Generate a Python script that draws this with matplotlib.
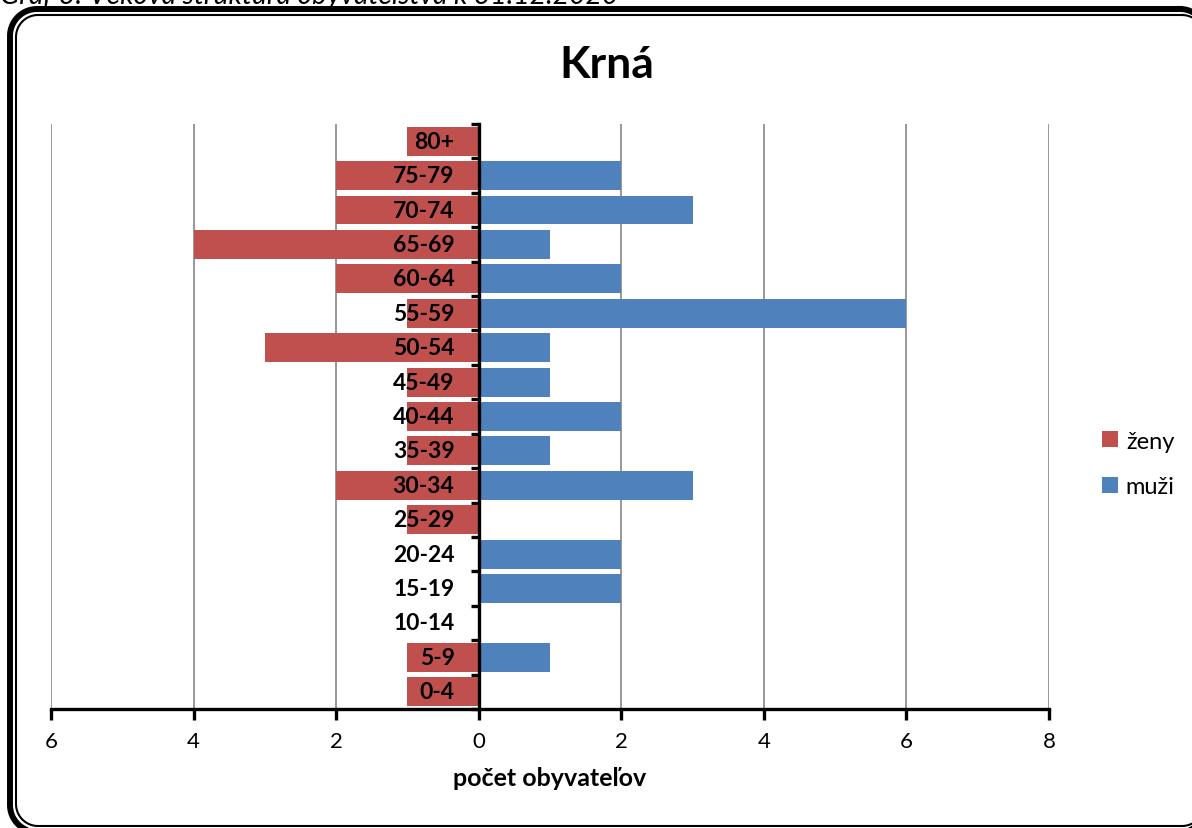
import matplotlib
matplotlib.use("Agg")
import numpy as np
import matplotlib.pyplot as plt
from matplotlib.patches import Patch
from matplotlib.ticker import FixedLocator, NullFormatter

plt.rcParams['font.family'] = ['Lato', 'DejaVu Sans']

categories = ["0-4", "5-9", "10-14", "15-19", "20-24", "25-29", "30-34", "35-39",
              "40-44", "45-49", "50-54", "55-59", "60-64", "65-69", "70-74", "75-79", "80+"]
zeny = [1, 1, 0, 0, 0, 1, 2, 1, 1, 1, 3, 1, 2, 4, 2, 2, 1]
muzi = [0, 1, 0, 2, 2, 0, 3, 1, 2, 1, 1, 6, 2, 1, 3, 2, 0]
x_ticks = [-6, -4, -2, 0, 2, 4, 6, 8]
x_tick_labels = ["6", "4", "2", "0", "2", "4", "6", "8"]

RED = "#C0504D"
BLUE = "#4F81BD"

W, H = 1192, 829
fig = plt.figure(figsize=(W / 100, H / 100), dpi=100)


def rounded_rect(left, top, right, bottom, r, n=24):
    xs, ys = [], []
    corners = [
        (right - r, top + r, -np.pi / 2, 0.0),
        (right - r, bottom - r, 0.0, np.pi / 2),
        (left + r, bottom - r, np.pi / 2, np.pi),
        (left + r, top + r, np.pi, 1.5 * np.pi),
    ]
    for cx, cy, a0, a1 in corners:
        t = np.linspace(a0, a1, n)
        xs.extend(cx + r * np.cos(t))
        ys.extend(cy + r * np.sin(t))
    xs.append(xs[0])
    ys.append(ys[0])
    return xs, ys


# full-figure overlay axes in pixel units (origin top-left) for the rounded double frame
fa = fig.add_axes([0, 0, 1, 1], zorder=-1)
fa.set_xlim(0, W)
fa.set_ylim(H, 0)
fa.axis('off')
ox, oy = rounded_rect(10, 10, 1207, 833, 27)
ix, iy = rounded_rect(16, 16, 1204, 827, 22)
fa.plot(ox, oy, color='black', linewidth=4.3, solid_joinstyle='round')
fa.plot(ix, iy, color='black', linewidth=1.5, solid_joinstyle='round')

ax = fig.add_axes([51 / W, 1 - 710 / H, (1049 - 51) / W, (710 - 125) / H])

y = list(range(len(categories)))
ax.barh(y, [-v for v in zeny], height=0.84, color=RED, edgecolor="none", zorder=2, label="ženy")
ax.barh(y, muzi, height=0.84, color=BLUE, edgecolor="none", zorder=2, label="muži")

ax.set_xlim(-6, 8)
ax.set_ylim(-0.5, len(categories) - 0.5)

ax.set_xticks(x_ticks)
ax.set_xticklabels(x_tick_labels)
ax.tick_params(axis='x', direction='out', length=8, width=2.4, pad=8, colors='black', labelsize=16)

ax.yaxis.set_major_locator(FixedLocator([i - 0.5 for i in range(len(categories) + 1)]))
ax.yaxis.set_major_formatter(NullFormatter())
ax.tick_params(axis='y', which='major', direction='out', length=6, width=2.4, color='black')

for yi, lab in zip(y, categories):
    ax.text(-0.34, yi, lab, ha='right', va='center', fontsize=16.5, fontweight='bold',
            color='black', zorder=6)

ax.spines['left'].set_position(('data', 0))
ax.spines['left'].set_linewidth(2.4)
ax.spines['bottom'].set_linewidth(2.4)
ax.spines['top'].set_visible(False)
ax.spines['right'].set_visible(False)

ax.grid(axis='x', color='#868686', linewidth=1.2)
for gl in ax.get_xgridlines():
    gl.set_zorder(0.5)
for sp in ax.spines.values():
    sp.set_zorder(4)

ax.set_xlabel("počet obyvateľov", fontsize=18, fontweight='bold', labelpad=11)

fig.text(607 / W, 1 - 65 / H, "Krná", fontsize=32, fontweight='bold', ha='center', va='center')

fig.text(0, 1 - 4 / H, "Graf 3: Veková štruktúra obyvateľstva k 31.12.2020",
         fontsize=20.3, style='italic', ha='left', va='baseline')

handles = [Patch(facecolor=RED, edgecolor='none', label='ženy'),
           Patch(facecolor=BLUE, edgecolor='none', label='muži')]
fig.legend(handles=handles, loc='center left', bbox_to_anchor=(1081 / W, 1 - 465 / H),
           frameon=False, fontsize=17, handlelength=0.65, handleheight=0.65,
           handletextpad=0.35, labelspacing=1.05)

fig.savefig("out.png", dpi=100)
